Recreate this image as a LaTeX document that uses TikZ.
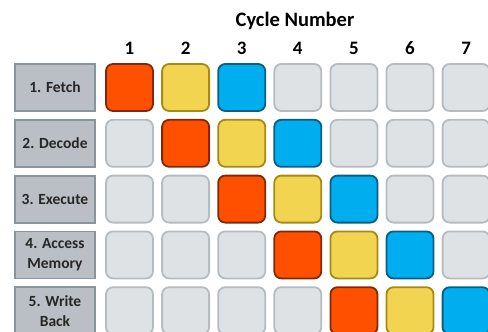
\documentclass[tikz,border=0pt]{standalone}
\usepackage{fontspec}
\setmainfont{Carlito}
\usetikzlibrary{positioning}

\definecolor{stagefill}{HTML}{B9BFC4}
\definecolor{stageedge}{HTML}{8A959B}
\definecolor{idlefill}{HTML}{DFE2E5}
\definecolor{idleedge}{HTML}{B5BCC0}
\definecolor{orangefill}{HTML}{FF5000}
\definecolor{orangeedge}{HTML}{7F2A05}
\definecolor{yellowfill}{HTML}{F2D450}
\definecolor{yellowedge}{HTML}{A38B14}
\definecolor{bluefill}{HTML}{00AEEF}
\definecolor{blueedge}{HTML}{0B5E7E}

\begin{document}
\begin{tikzpicture}[
    x=1pt, y=-1pt,
    stage/.style={draw=stageedge, fill=stagefill, line width=1.8pt, minimum width=80pt, minimum height=47pt,
        inner sep=0pt, align=center, text=black!85, font=\bfseries\fontsize{15.5}{20}\selectfont},
    slot/.style={rounded corners=7pt, line width=1.8pt, minimum size=47pt, inner sep=0pt},
    idle/.style={slot, draw=idleedge, fill=idlefill},
    ins0/.style={slot, draw=orangeedge, fill=orangefill},
    ins1/.style={slot, draw=yellowedge, fill=yellowfill},
    ins2/.style={slot, draw=blueedge, fill=bluefill},
    cyclenum/.style={font=\bfseries\fontsize{19}{22}\selectfont, inner sep=0pt},
    heading/.style={font=\bfseries\fontsize{20.5}{24}\selectfont, inner sep=0pt}
]
\useasboundingbox (0,0) rectangle (488,332);

% pipeline stages
\foreach \i/\name in {1/{1. Fetch},2/{2. Decode},3/{3. Execute},4/{4. Access\\Memory},5/{5. Write\\Back}}
    \node[stage] (s\i) at (55,{87.5+55.8*(\i-1)}) {\name};

% cycle numbers
\foreach \j in {1,...,7}
    \node[cyclenum] (n\j) at ({129.5+56.1*(\j-1)},48.5) {\j};
\node[heading] (title) at (295,21) {Cycle Number};

% grid of slots
\foreach \i in {1,...,5}
    \foreach \j in {1,...,7} {
        \pgfmathtruncatemacro\k{\j-\i}
        \ifnum\k<0 \def\kind{idle}\else\ifnum\k>2 \def\kind{idle}\else\def\kind{ins\k}\fi\fi
        \node[\kind] (c-\i-\j) at ({129.5+56.1*(\j-1)},{87.5+55.8*(\i-1)}) {};
    }
\end{tikzpicture}
\end{document}
